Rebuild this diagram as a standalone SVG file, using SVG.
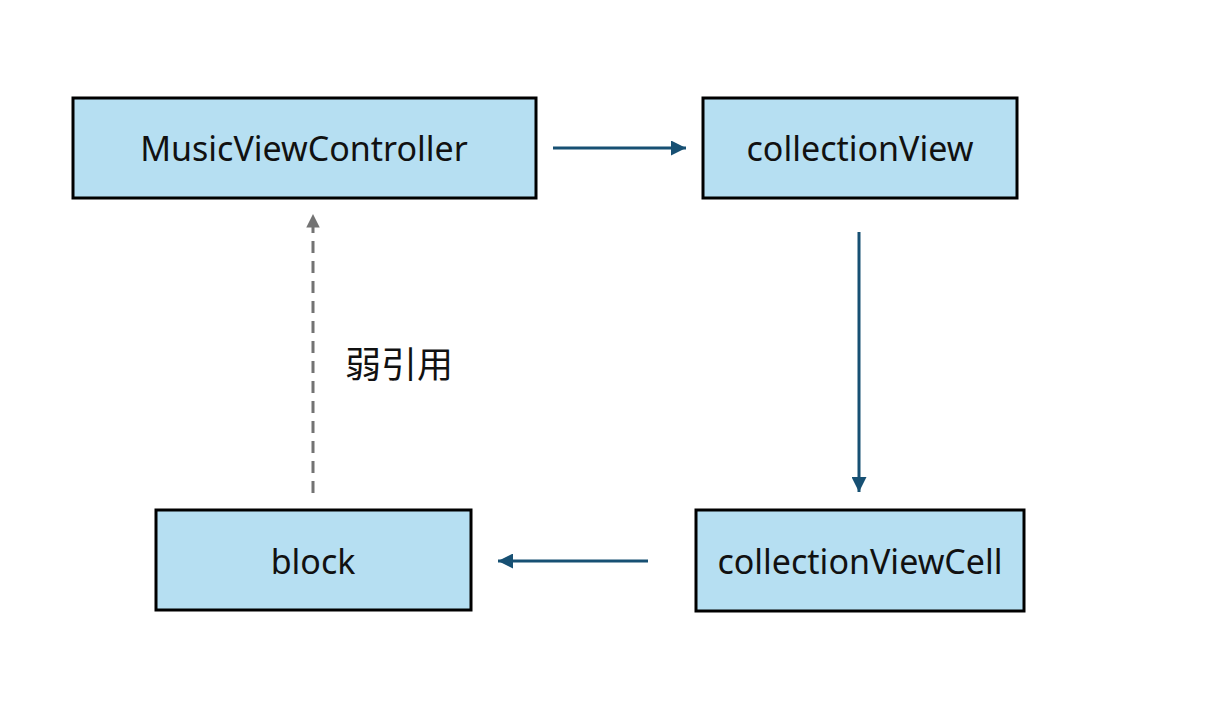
<svg xmlns="http://www.w3.org/2000/svg" width="1218" height="708" viewBox="0 0 1218 708">
<style>
.box{fill:#b6dff2;stroke:#000;stroke-width:3}
.lbl{font-family:"Noto Sans","Liberation Sans","Noto Sans CJK SC",sans-serif;font-size:34px;fill:#111;text-anchor:middle;dominant-baseline:central}
.solid{stroke:#175073;stroke-width:3;fill:none}
.dash{stroke:#737373;stroke-width:3;fill:none;stroke-dasharray:12 8}
</style>
<defs>
<marker id="ab" viewBox="0 0 10 10" refX="10" refY="5" markerWidth="5" markerHeight="5" orient="auto" markerUnits="strokeWidth"><path d="M0,0 L10,5 L0,10 z" fill="#175073"/></marker>
<marker id="ag" viewBox="0 0 10 10" refX="10" refY="5" markerWidth="4.5" markerHeight="4.5" orient="auto" markerUnits="strokeWidth"><path d="M0,0 L10,5 L0,10 z" fill="#737373"/></marker>
</defs>
<rect width="1218" height="708" fill="#fff"/>
<g id="connectors">
<line class="solid" x1="553" y1="148" x2="686" y2="148" marker-end="url(#ab)"/>
<line class="solid" x1="859" y1="232" x2="859" y2="492" marker-end="url(#ab)"/>
<line class="solid" x1="648" y1="561" x2="498" y2="561" marker-end="url(#ab)"/>
<line class="dash" x1="313" y1="493" x2="313" y2="214" marker-end="url(#ag)"/>
<text class="lbl" x="399" y="362" style="font-family:'Noto Sans CJK SC',sans-serif;font-size:36px">弱引用</text>
</g>
<g id="mvc"><rect class="box" x="73" y="98" width="463" height="100"/><text class="lbl" x="304" y="148">MusicViewController</text></g>
<g id="cv"><rect class="box" x="703" y="98" width="314" height="100"/><text class="lbl" x="860" y="148">collectionView</text></g>
<g id="block"><rect class="box" x="156" y="510" width="315" height="100"/><text class="lbl" x="313" y="561">block</text></g>
<g id="cell"><rect class="box" x="696" y="510" width="328" height="101"/><text class="lbl" x="860" y="561">collectionViewCell</text></g>
</svg>
